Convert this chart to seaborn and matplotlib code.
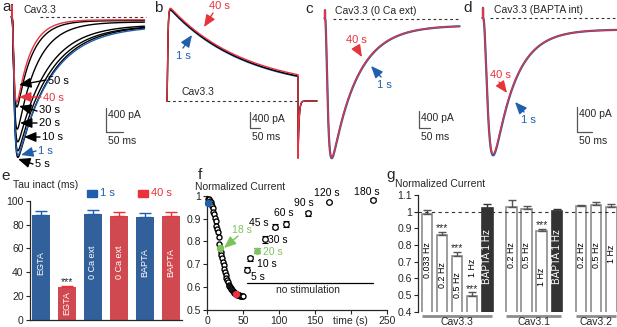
import numpy as np
import pandas as pd
import matplotlib
matplotlib.use('Agg')
import matplotlib.pyplot as plt
from matplotlib.patches import Rectangle, FancyArrowPatch
import seaborn as sns

sns.set_style('ticks')
plt.rcParams['font.family'] = ['Liberation Sans', 'DejaVu Sans']
plt.rcParams['font.size'] = 7.5
plt.rcParams['axes.linewidth'] = 0.9
plt.rcParams['xtick.major.size'] = 3
plt.rcParams['ytick.major.size'] = 3
plt.rcParams['xtick.major.width'] = 0.8
plt.rcParams['ytick.major.width'] = 0.8
plt.rcParams['xtick.major.pad'] = 1.5
plt.rcParams['ytick.major.pad'] = 1.5
plt.rcParams['xtick.labelsize'] = 7.5
plt.rcParams['ytick.labelsize'] = 7.5

BLUE = '#1f5fab'
RED = '#e8323c'
GREEN = '#7dc35b'
DARK = '#333333'
GREY = '#8c8c8c'

# ---- data ----
# a: Cav3.3 currents during the 1 Hz train
a_time = ['1 s', '5 s', '10 s', '20 s', '30 s', '40 s', '50 s']
a_peak = [2300, 2340, 2230, 2080, 1870, 1420, 1500]     # pA
a_tau = [100, 96, 92, 86, 58, 40, 44]                  # ms
a_rest = [120, 110, 110, 100, 60, 30, 40]              # pA

# b: long step, outward current + tail
b_time = ['1 s', '20 s', '40 s']
b_peak = [2440, 2460, 2490]
b_rest = [230, 245, 280]
b_tau = 380
b_step = 655
b_tail = 1460

# c: 0 Ca ext, d: BAPTA int (1 s, 40 s)
c_peak = [3350, 3340]
c_tau = [115, 114]
c_rest = 120
d_peak = [2170, 2150]
d_tau = [70, 70]
d_rest = 100

# e: tau inactivation
e_cond = ['EGTA', 'EGTA', '0 Ca ext', '0 Ca ext', 'BAPTA', 'BAPTA']
e_time = ['1 s', '40 s', '1 s', '40 s', '1 s', '40 s']
e_tau = [87.6, 27.5, 88.6, 86.8, 86.0, 86.8]
e_err = [3.4, 1.3, 3.2, 3.7, 3.7, 3.7]

# f: normalized current during 1 Hz train and recovery
f_t = np.arange(1, 51)
f_v = [0.968, 0.985, 0.985, 0.98, 0.975, 0.965, 0.955, 0.945, 0.93, 0.92,
       0.905, 0.89, 0.87, 0.855, 0.84, 0.82, 0.79, 0.77, 0.755, 0.74,
       0.725, 0.71, 0.695, 0.68, 0.665, 0.65, 0.64, 0.63, 0.62, 0.61,
       0.605, 0.60, 0.595, 0.59, 0.585, 0.58, 0.577, 0.574, 0.572, 0.57,
       0.568, 0.566, 0.564, 0.563, 0.562, 0.561, 0.561, 0.56, 0.56, 0.56]
rec_t = [55, 60, 70, 80, 95, 110, 140, 170, 230]
rec_v = [0.676, 0.725, 0.759, 0.809, 0.865, 0.876, 0.924, 0.972, 0.984]
rec_err = [0.01, 0.012, 0.012, 0.015, 0.012, 0.012, 0.01, 0.005, 0.006]
rec_lab = ['5 s', '10 s', '20 s', '30 s', '45 s', '60 s', '90 s', '120 s', '180 s']

# g: normalized current at different frequencies
g_group = ['Cav3.3'] * 5 + ['Cav3.1'] * 4 + ['Cav3.2'] * 3
g_label = ['0.033 Hz', '0.2 Hz', '0.5 Hz', '1 Hz', 'BAPTA 1 Hz',
           '0.2 Hz', '0.5 Hz', '1 Hz', 'BAPTA 1 Hz',
           '0.2 Hz', '0.5 Hz', '1 Hz']
g_val = [0.987, 0.863, 0.735, 0.496, 1.025, 1.029, 1.015, 0.883, 1.005, 1.035, 1.043, 1.029]
g_err = [0.022, 0.014, 0.024, 0.02, 0.024, 0.04, 0.018, 0.016, 0.014, 0.008, 0.016, 0.02]
g_sig = [False, True, True, True, False, False, False, True, False, False, False, False]

# ---- layout ----
W, H = 617, 327
fig = plt.figure(figsize=(6.17, 3.27), dpi=100)


def add_ax(l, t, r, b):
    return fig.add_axes([l / W, 1 - b / H, (r - l) / W, (b - t) / H])


def ptxt(x, y, s, **kw):
    kw.setdefault('ha', 'left')
    kw.setdefault('va', 'center')
    fig.text(x / W, 1 - y / H, s, **kw)


def parrow(tail, head, color):
    fig.add_artist(FancyArrowPatch(posA=(tail[0] / W, 1 - tail[1] / H),
                                   posB=(head[0] / W, 1 - head[1] / H),
                                   transform=fig.transFigure, color=color, lw=1.0,
                                   arrowstyle='-|>,head_length=0.6,head_width=0.25',
                                   mutation_scale=12, shrinkA=0, shrinkB=0))


def inward(t, peak, tau_act, tau_inact, rest, spike):
    tt = np.clip(t, 0, None)
    i = (1 - np.exp(-tt / tau_act)) ** 3 * ((peak - rest) * np.exp(-tt / tau_inact) + rest)
    i = -peak * i / i.max()
    i[t == 0] = spike
    return i


def outward(t, peak, rest, tau, t_end, tail, tau_tail):
    tt = np.clip(t, 0, None)
    i = (1 - np.exp(-tt / 3.0)) ** 2 * ((peak - rest) * np.exp(-tt / tau) + rest)
    i = np.where(t < t_end, i, -tail * np.exp(-(t - t_end) / tau_tail))
    i[t < 0] = 0
    return i


def trace_ax(g):
    ax = add_ax(g['left'], 0, g['right'], 170)
    ax.set_xlim((g['left'] - g['x0']) / g['ppm'], (g['right'] - g['x0']) / g['ppm'])
    ax.set_ylim((g['base'] - 170) / g['ppp'], g['base'] / g['ppp'])
    ax.axis('off')
    return ax


def to_data(g, px, py):
    return (px - g['x0']) / g['ppm'], (g['base'] - py) / g['ppp']


def scalebar(ax, g, sx, sy):
    x, y = to_data(g, sx, sy)
    ax.plot([x, x, x + 50], [y + 400, y, y], color='#555555', lw=0.9)
    ptxt(sx + 2, sy - 400 * g['ppp'] + 7, '400 pA')
    ptxt(sx + 2, sy + 9, '50 ms')


def baseline(ax, g, px0, px1):
    x0, _ = to_data(g, px0, 0)
    x1, _ = to_data(g, px1, 0)
    ax.plot([x0, x1], [0, 0], color='#333333', lw=0.8, ls=(0, (2.5, 2.5)))


geo = {
    'a': dict(left=4, right=150, x0=12, base=17, ppm=0.34, ppp=0.06),
    'b': dict(left=152, right=320, x0=167, base=101, ppm=0.2, ppp=0.039),
    'c': dict(left=318, right=462, x0=325, base=18.5, ppm=0.22, ppp=0.0417),
    'd': dict(left=474, right=617, x0=483, base=18, ppm=0.3, ppp=0.0633),
}

# ---- a ----
g = geo['a']
ax = trace_ax(g)
baseline(ax, g, 40, 146)
t = np.arange(-2, 390, 0.25)
a_col = {'1 s': BLUE, '40 s': RED}
order = [1, 2, 3, 4, 6, 0, 5]
for k in order:
    ax.plot(t, inward(t, a_peak[k], 4.0, a_tau[k], a_rest[k], 200),
            color=a_col.get(a_time[k], 'black'), lw=1.0)
scalebar(ax, g, 106, 132)
ptxt(23, 10, 'Cav3.3')
a_arrows = [((48, 81), (46, 80), (19, 85)),
            ((43, 98), (41, 97), (19, 97)),
            ((39, 110), (37, 111), (19, 106)),
            ((39, 123), (37, 123), (20, 123)),
            ((42, 137), (40, 137), (24, 137)),
            ((38, 151), (36, 151), (21, 155)),
            ((35, 164), (33, 164), (18, 159))]
for lab, (tx, tail, head) in zip(['50 s', '40 s', '30 s', '20 s', '10 s', '1 s', '5 s'], a_arrows):
    c = a_col.get(lab, 'black')
    parrow(tail, head, c)
    ptxt(tx[0], tx[1], lab, color=c, fontsize=8)

# ---- b ----
g = geo['b']
ax = trace_ax(g)
baseline(ax, g, 167, 298)
t = np.arange(-2, 750, 0.25)
for k, c in zip([0, 1, 2], [BLUE, 'black', RED]):
    ax.plot(t, outward(t, b_peak[k], b_rest[k], b_tau, b_step, b_tail, 5.0), color=c, lw=1.0)
scalebar(ax, g, 250, 128)
ptxt(182, 92, 'Cav3.3')
parrow((213, 13), (204, 27), RED)
ptxt(219, 6, '40 s', color=RED, fontsize=8, ha='center')
parrow((183, 48), (192, 35), BLUE)
ptxt(183, 56, '1 s', color=BLUE, fontsize=8, ha='center')

# ---- c ----
g = geo['c']
ax = trace_ax(g)
baseline(ax, g, 333, 460)
t = np.arange(-2, 612, 0.25)
for k, c, lw in [(0, BLUE, 1.6), (1, RED, 1.0)]:
    ax.plot(t, inward(t, c_peak[k], 8.0, c_tau[k], c_rest, 200), color=c, lw=lw)
scalebar(ax, g, 419, 128)
ptxt(335, 11, 'Cav3.3 (0 Ca ext)')
parrow((356, 47), (362, 57), RED)
ptxt(356, 40, '40 s', color=RED, fontsize=8, ha='center')
parrow((381, 77), (371, 66), BLUE)
ptxt(384, 85, '1 s', color=BLUE, fontsize=8, ha='center')

# ---- d ----
g = geo['d']
ax = trace_ax(g)
baseline(ax, g, 490, 617)
t = np.arange(-2, 446, 0.25)
for k, c, lw in [(0, BLUE, 1.6), (1, RED, 1.0)]:
    ax.plot(t, inward(t, d_peak[k], 11.0, d_tau[k], d_rest, 160), color=c, lw=lw)
scalebar(ax, g, 577, 132)
ptxt(494, 10, 'Cav3.3 (BAPTA int)')
parrow((499, 82), (507, 93), RED)
ptxt(500, 75, '40 s', color=RED, fontsize=8, ha='center')
parrow((524, 112), (515, 102), BLUE)
ptxt(528, 120, '1 s', color=BLUE, fontsize=8, ha='center')

# ---- e ----
ax_e = add_ax(30, 200.7, 182, 320)
df_e = pd.DataFrame({'bar': np.arange(len(e_tau)), 'tau': e_tau, 'time': e_time})
sns.barplot(data=df_e, x='bar', y='tau', hue='time', palette={'1 s': BLUE, '40 s': RED},
            native_scale=True, dodge=False, width=0.7, errorbar=None, legend=False,
            linewidth=0, ax=ax_e)
for i, row in df_e.iterrows():
    c = BLUE if row.time == '1 s' else RED
    ax_e.errorbar(row.bar, row.tau, yerr=[[0], [e_err[i]]], fmt='none', ecolor=c,
                  elinewidth=1.0, capsize=4, capthick=1.0)
    ax_e.text(row.bar, 14 if row.tau < 50 else 48, e_cond[i], rotation=90, color='white',
              ha='center', va='center', fontsize=6.5)
ax_e.text(1, e_tau[1] + e_err[1] + 0.5, '***', ha='center', va='baseline', fontsize=7.5)
ax_e.set_xlim(-0.42, 5.42)
ax_e.set_ylim(0, 100)
ax_e.set_yticks(np.arange(0, 101, 20))
ax_e.set_xticks([])
ax_e.set_xlabel('')
ax_e.set_ylabel('')
sns.despine(ax=ax_e)
ptxt(13, 185, 'Tau inact (ms)')
fig.add_artist(Rectangle((87 / W, 1 - 197 / H), 10 / W, 7 / H, transform=fig.transFigure, color=BLUE))
ptxt(100, 193, '1 s', color=BLUE, fontsize=8)
fig.add_artist(Rectangle((138 / W, 1 - 197 / H), 10 / W, 7 / H, transform=fig.transFigure, color=RED))
ptxt(151, 193, '40 s', color=RED, fontsize=8)

# ---- f ----
ax_f = add_ax(207, 196, 387, 309.5)
ax_f.errorbar(rec_t, rec_v, yerr=rec_err, fmt='none', ecolor='black', elinewidth=0.8,
              capsize=2.2, capthick=0.8, clip_on=False)
sns.scatterplot(x=f_t, y=f_v, ax=ax_f, s=13, marker='o', facecolor='white',
                edgecolor='black', linewidth=1.0, clip_on=False, zorder=3)
open_t = [x for x, l in zip(rec_t, rec_lab) if l != '20 s']
open_v = [v for v, l in zip(rec_v, rec_lab) if l != '20 s']
sns.scatterplot(x=open_t, y=open_v, ax=ax_f, s=16, marker='o', facecolor='white',
                edgecolor='black', linewidth=0.9, clip_on=False, zorder=3)
hi = [(1, BLUE), (18, GREEN), (40, RED)]
for tt, c in hi:
    sns.scatterplot(x=[tt], y=[f_v[tt - 1]], ax=ax_f, s=20, color=c, edgecolor=c,
                    linewidth=0.8, clip_on=False, zorder=4)
k20 = rec_lab.index('20 s')
ax_f.errorbar([rec_t[k20]], [rec_v[k20]], yerr=[rec_err[k20]], fmt='none', ecolor=GREEN,
              elinewidth=0.8, capsize=2.2, capthick=0.8)
sns.scatterplot(x=[rec_t[k20]], y=[rec_v[k20]], ax=ax_f, s=20, color=GREEN, edgecolor=GREEN,
                zorder=4)
ax_f.plot([55, 230], [0.615, 0.615], color='black', lw=0.9)
ax_f.text(140, 0.585, 'no stimulation', ha='center', va='center')
ax_f.set_xlim(0, 250)
ax_f.set_ylim(0.5, 1.0)
ax_f.set_xticks([0, 50, 100, 150, 200, 250])
ax_f.set_xticklabels(['0', '50', '100', '150', '', '250'])
ax_f.set_yticks([0.5, 0.6, 0.7, 0.8, 0.9, 1.0])
ax_f.set_yticklabels(['0.5', '0.6', '0.7', '0.8', '0.9', '1'])
sns.despine(ax=ax_f)
ptxt(350, 321, 'time (s)', ha='center')
ptxt(195, 187, 'Normalized Current')
rec_txt = [(251, 277), (257, 264), (263, 252), (268, 240), (249, 223),
           (274, 213), (294, 203), (314, 193), (354, 192)]
for lab, (x, y) in zip(rec_lab, rec_txt):
    ptxt(x, y, lab, color=GREEN if lab == '20 s' else 'black')
parrow((238, 236), (224, 248), GREEN)
ptxt(232, 230, '18 s', color=GREEN)

# ---- g ----
ax_g = add_ax(418, 195, 617, 311.7)
gap = 0.62
g_pos = []
grp_no = 0
for i, grp in enumerate(g_group):
    if i > 0 and grp != g_group[i - 1]:
        grp_no += 1
    g_pos.append(i + grp_no * gap)
df_g = pd.DataFrame({'pos': g_pos, 'val': g_val,
                     'kind': ['BAPTA' if 'BAPTA' in l else 'EGTA' for l in g_label]})
sns.barplot(data=df_g, x='pos', y='val', hue='kind', palette={'EGTA': 'white', 'BAPTA': DARK},
            native_scale=True, dodge=False, width=0.7, errorbar=None, legend=False,
            edgecolor=GREY, linewidth=1.2, ax=ax_g)
for p in ax_g.patches:
    if p.get_facecolor()[0] < 0.5:
        p.set_edgecolor(DARK)
g_text_y = [0.71, 0.62, 0.557, 0.665, 0.73, 0.74, 0.74, 0.61, 0.73, 0.74, 0.74, 0.745]
for i in range(len(g_val)):
    dark = 'BAPTA' in g_label[i]
    ax_g.errorbar(g_pos[i], g_val[i], yerr=[[0], [g_err[i]]], fmt='none',
                  ecolor=DARK if dark else '#555555', elinewidth=1.0, capsize=3.2, capthick=1.0)
    ax_g.text(g_pos[i], g_text_y[i], g_label[i], rotation=90, ha='center', va='center',
              color='white' if dark else 'black', fontsize=7.2 if dark else 6.4)
    if g_sig[i]:
        ax_g.text(g_pos[i], g_val[i] + g_err[i] + 0.004, '***', ha='center', va='baseline')
ax_g.axhline(1.0, color='#333333', lw=0.8, ls=(0, (3, 3)))
ax_g.set_xlim(-0.6, 12.62)
ax_g.set_ylim(0.4, 1.1)
ax_g.set_yticks(np.arange(0.4, 1.15, 0.1))
ax_g.set_yticklabels(['0.4', '0.5', '0.6', '0.7', '0.8', '0.9', '1', '1.1'])
ax_g.set_xticks([])
ax_g.set_xlabel('')
ax_g.set_ylabel('')
sns.despine(ax=ax_g, bottom=True)
for grp in ['Cav3.3', 'Cav3.1', 'Cav3.2']:
    ps = [p for p, gg in zip(g_pos, g_group) if gg == grp]
    ax_g.plot([ps[0] - 0.35, min(ps[-1] + 0.3, 12.62)], [0.376, 0.376], color=GREY, lw=2,
              clip_on=False, solid_capstyle='butt')
    ax_g.text(np.mean(ps), 0.34, grp, ha='center', va='center')
ptxt(395, 184, 'Normalized Current')

# panel letters
for lab, x, y in [('a', 2, 7), ('b', 154, 8), ('c', 305, 9), ('d', 463, 8),
                  ('e', 1, 176), ('f', 198, 175), ('g', 386, 175)]:
    ptxt(x, y, lab, fontsize=11)

fig.savefig('out.png', dpi=100)
